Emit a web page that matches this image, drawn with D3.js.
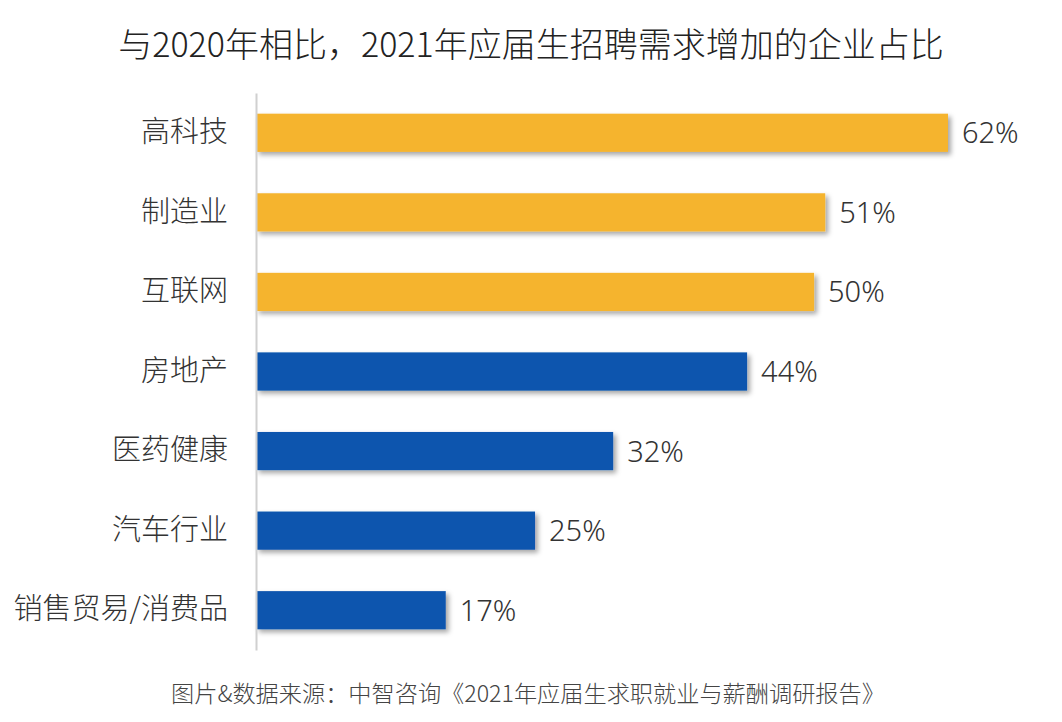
<!DOCTYPE html>
<html>
<head>
<meta charset="utf-8">
<script src="https://cdn.jsdelivr.net/npm/d3@7"></script>
<style>
  html, body { margin: 0; padding: 0; background: #fff; }
  svg { display: block; }
</style>
</head>
<body>
<svg id="chart" width="1062" height="722"></svg>
<script>
const categories = ["高科技", "制造业", "互联网", "房地产", "医药健康", "汽车行业", "销售贸易/消费品"];
const values = [62, 51, 50, 44, 32, 25, 17];
const highlight = [true, true, true, false, false, false, false];
const title = "与2020年相比，2021年应届生招聘需求增加的企业占比";
const source = "图片&数据来源：中智咨询《2021年应届生求职就业与薪酬调研报告》";

const W = 1062, H = 722;
const margin = { left: 256, top: 93, bottom: 72 };
const cjk = "'Noto Sans CJK SC', 'Noto Sans', sans-serif";

const svg = d3.select("#chart");

const defs = svg.append("defs");
const f = defs.append("filter").attr("id", "shadow")
  .attr("x", "-5%").attr("y", "-30%").attr("width", "115%").attr("height", "170%");
f.append("feDropShadow").attr("dx", 3).attr("dy", 3).attr("stdDeviation", 2.5)
  .attr("flood-color", "#000").attr("flood-opacity", 0.35);

const x = d3.scaleLinear().domain([0, 62]).range([margin.left, 948]);
const y = d3.scaleBand().domain(categories).range([margin.top, H - margin.bottom]).paddingInner(0.52).paddingOuter(0.26);

// title
svg.append("text")
  .attr("x", 531).attr("y", 57)
  .attr("text-anchor", "middle")
  .attr("font-family", cjk)
  .attr("font-size", 34)
  .attr("font-weight", 300)
  .attr("fill", "#222")
  .text(title);

// bars
svg.append("g").selectAll("rect")
  .data(categories)
  .join("rect")
  .attr("x", x(0))
  .attr("y", d => y(d))
  .attr("width", (d, i) => x(values[i]) - x(0))
  .attr("height", y.bandwidth())
  .attr("fill", (d, i) => highlight[i] ? "#F5B42E" : "#0A54AE")
  .attr("filter", "url(#shadow)");

// axis
const yAxis = d3.axisLeft(y).tickSize(0).tickPadding(28);
const ag = svg.append("g").attr("transform", `translate(${margin.left},0)`).call(yAxis);
ag.select(".domain").attr("stroke", "#d0d0d0").attr("stroke-width", 2);
ag.selectAll(".tick text")
  .attr("font-family", cjk)
  .attr("font-size", 29)
  .attr("font-weight", 300)
  .attr("fill", "#333");

// value labels
svg.append("g").selectAll("text")
  .data(categories)
  .join("text")
  .attr("x", (d, i) => x(values[i]) + 14)
  .attr("y", d => y(d) + y.bandwidth() / 2)
  .attr("dy", "0.36em")
  .attr("font-family", "'Noto Sans', sans-serif")
  .attr("font-size", 29)
  .attr("font-weight", 300)
  .attr("fill", "#333")
  .text((d, i) => values[i] + "%");

// source
svg.append("text")
  .attr("x", 528).attr("y", 702)
  .attr("text-anchor", "middle")
  .attr("font-family", cjk)
  .attr("font-size", 23.2)
  .attr("font-weight", 300)
  .attr("fill", "#444")
  .text(source);
</script>
</body>
</html>
